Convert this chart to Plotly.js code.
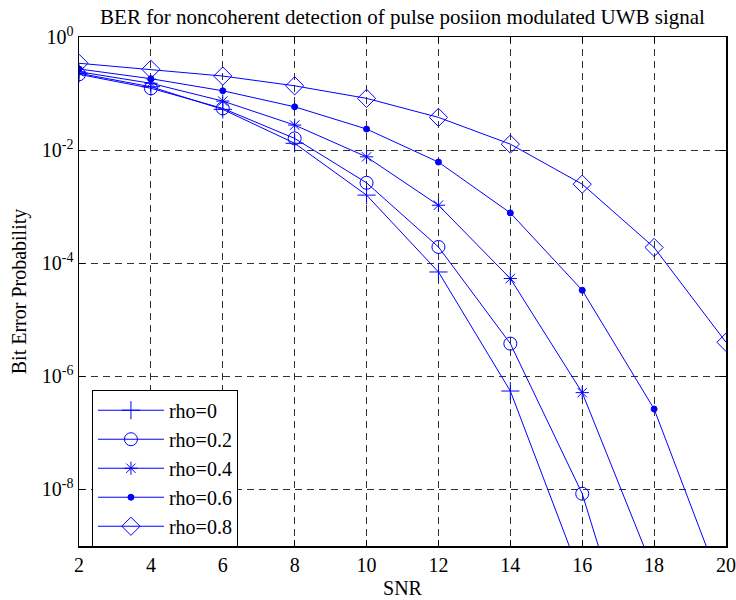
<!DOCTYPE html>
<html>
<head>
<meta charset="utf-8">
<script src="https://cdn.plot.ly/plotly-3.0.1.min.js"></script>
<style>html,body{margin:0;padding:0;background:#fff;}#plot{width:736px;height:600px;}</style>
</head>
<body>
<div id="plot"></div>
<script>
// SNR values (x axis)
const snr = [2, 4, 6, 8, 10, 12, 14, 16, 18, 20];

// BER values
const ber_rho0  = [0.228, 0.132, 0.0525, 0.0132, 0.0016, 7.0e-5, 5.5e-7, 2.5e-10];
const ber_rho02 = [0.219, 0.124, 0.0547, 0.0161, 0.00264, 1.94e-4, 3.79e-6, 8.4e-9, 6.3e-13];
const ber_rho04 = [0.243, 0.152, 0.0736, 0.0277, 0.0076, 0.00106, 5.36e-5, 5.15e-7, 3.5e-10];
const ber_rho06 = [0.272, 0.183, 0.112, 0.0583, 0.0236, 0.00614, 7.76e-4, 3.33e-5, 2.64e-7, 1.2e-10];
const ber_rho08 = [0.343, 0.268, 0.204, 0.137, 0.0822, 0.0379, 0.01276, 0.0025, 1.9e-4, 4.0e-6];

const seriesNames = ['rho=0', 'rho=0.2', 'rho=0.4', 'rho=0.6', 'rho=0.8'];
const seriesData = [ber_rho0, ber_rho02, ber_rho04, ber_rho06, ber_rho08];
const seriesSymbols = ['cross-thin-open', 'circle-open', 'asterisk-open', 'circle', 'diamond-open'];
const seriesSizes = [13, 13, 11, 6, 14];

// y tick labels
const yTickVals = [1, 1e-2, 1e-4, 1e-6, 1e-8];
const yTickText = ['10<sup>0</sup>', '10<sup>-2</sup>', '10<sup>-4</sup>', '10<sup>-6</sup>', '10<sup>-8</sup>'];
const xTickVals = [2, 4, 6, 8, 10, 12, 14, 16, 18, 20];

const FONT = 'Liberation Serif, Times New Roman, serif';
const BLUE = '#0000ff';

const traces = seriesData.map((ys, i) => ({
  x: snr.slice(0, ys.length),
  y: ys,
  name: seriesNames[i],
  type: 'scatter',
  mode: 'lines+markers',
  line: {color: BLUE, width: 1},
  marker: {symbol: seriesSymbols[i], size: seriesSizes[i], color: BLUE,
           line: {color: BLUE, width: 1}},
  cliponaxis: true
}));

const layout = {
  width: 736, height: 600,
  margin: {l: 79, r: 10, t: 37, b: 54, pad: 0},
  paper_bgcolor: '#fff', plot_bgcolor: '#fff',
  font: {family: FONT, size: 20, color: '#000'},
  title: {text: 'BER for noncoherent detection of pulse posiion modulated UWB signal',
          font: {family: FONT, size: 21, color: '#000'}, xref: 'paper', x: 0.5, xanchor: 'center', y: 0.985, yanchor: 'top'},
  xaxis: {
    range: [2, 20], tickvals: xTickVals, ticktext: xTickVals.map(String),
    showline: true, linecolor: '#000', linewidth: 1.5, mirror: 'ticks',
    ticks: 'inside', ticklen: 6, tickcolor: '#000',
    showgrid: true, gridcolor: '#333', gridwidth: 1, griddash: '7px,5px',
    zeroline: false,
    title: {text: 'SNR', font: {family: FONT, size: 20}, standoff: 6},
    tickfont: {family: FONT, size: 20}
  },
  yaxis: {
    type: 'log', range: [-9, 0], tickvals: yTickVals, ticktext: yTickText,
    showline: true, linecolor: '#000', linewidth: 1.5, mirror: 'ticks',
    ticks: 'inside', ticklen: 6, tickcolor: '#000',
    showgrid: true, gridcolor: '#333', gridwidth: 1, griddash: '7px,5px',
    zeroline: false,
    title: {text: 'Bit Error Probability', font: {family: FONT, size: 20}, standoff: 10},
    tickfont: {family: FONT, size: 20}
  },
  showlegend: true,
  legend: {
    x: 0.02, y: 0.307, xanchor: 'left', yanchor: 'top',
    bgcolor: '#fff', bordercolor: '#000', borderwidth: 1,
    font: {family: FONT, size: 20, color: '#000'},
    itemwidth: 66, tracegroupgap: 0
  }
};

Plotly.newPlot('plot', traces, layout, {displayModeBar: false, staticPlot: true});
</script>
</body>
</html>
